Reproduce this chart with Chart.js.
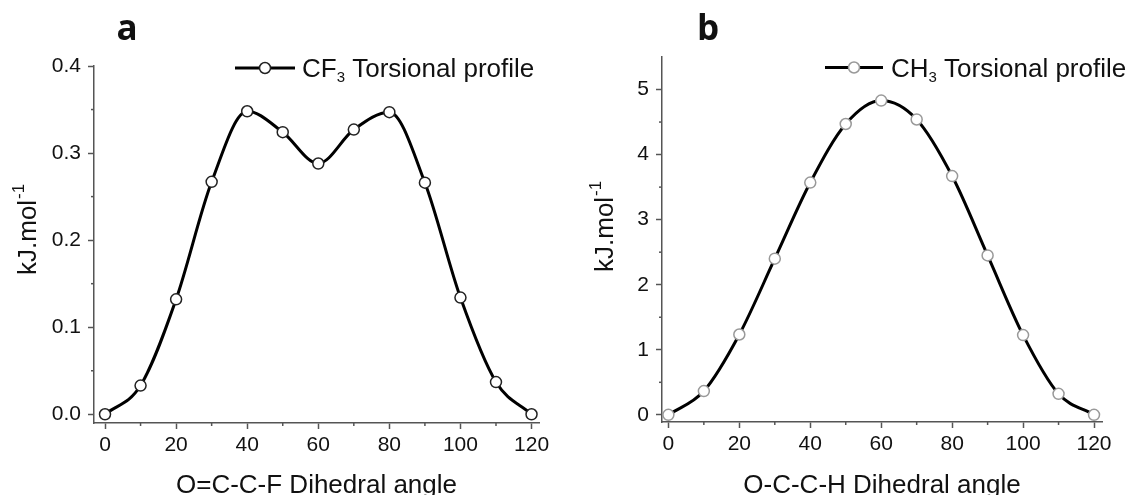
<!DOCTYPE html>
<html>
<head>
<meta charset="utf-8">
<script src="https://cdn.jsdelivr.net/npm/chart.js@4.4.0/dist/chart.umd.min.js"></script>
<style>
  body { margin: 0; background: #fff; }
  #wrap { position: relative; width: 1131px; height: 495px; }
  .panel { position: absolute; top: 0; height: 495px; }
  #panelA { left: 0; width: 565px; }
  #panelB { left: 565px; width: 566px; }
</style>
</head>
<body>
<div id="wrap">
  <div class="panel" id="panelA"><canvas id="chartA"></canvas></div>
  <div class="panel" id="panelB"><canvas id="chartB"></canvas></div>
</div>
<script>
// dihedral angles (degrees)
const angles = [0, 10, 20, 30, 40, 50, 60, 70, 80, 90, 100, 110, 120];
// torsional energy, kJ/mol
const cf3Energy = [0.0, 0.033, 0.132, 0.267, 0.348, 0.324, 0.288, 0.327, 0.347, 0.266, 0.134, 0.037, 0.0];
const ch3Energy = [0.0, 0.365, 1.235, 2.40, 3.57, 4.47, 4.83, 4.54, 3.67, 2.45, 1.226, 0.323, 0.0];

// tick positions (every other one is labelled)
const xTicks = [0, 10, 20, 30, 40, 50, 60, 70, 80, 90, 100, 110, 120];
const yTicksA = [0, 0.05, 0.1, 0.15, 0.2, 0.25, 0.3, 0.35, 0.4];
const yTicksB = [0, 0.5, 1, 1.5, 2, 2.5, 3, 3.5, 4, 4.5, 5];

const FONT = '"Liberation Sans", Arial, sans-serif';
const AXIS = '#555';

const textPlugin = {
  id: 'panelText',
  afterDraw(chart, args, o) {
    const ctx = chart.ctx;
    const area = chart.chartArea;
    const ds = chart.data.datasets[0];
    ctx.save();
    ctx.fillStyle = '#111';

    // panel letter
    ctx.font = 'bold 35px "Open Sans", sans-serif';
    ctx.textAlign = 'center';
    ctx.textBaseline = 'alphabetic';
    ctx.fillText(o.letter, o.letterX, 40);

    // x title
    ctx.font = '26px ' + FONT;
    ctx.fillText(o.xTitle, (area.left + area.right) / 2, 493);

    // y title with superscript
    ctx.save();
    ctx.translate(o.yTitleX, o.yTitleY);
    ctx.rotate(-Math.PI / 2);
    ctx.textAlign = 'left';
    ctx.font = '26px ' + FONT;
    ctx.fillText('kJ.mol', 0, 0);
    const w = ctx.measureText('kJ.mol').width;
    ctx.font = '17px ' + FONT;
    ctx.fillText('-1', w + 1, -12);
    ctx.restore();

    // legend: line + marker + label with subscript
    const lg = o.legend;
    ctx.strokeStyle = ds.borderColor;
    ctx.lineWidth = ds.borderWidth;
    ctx.beginPath();
    ctx.moveTo(lg.x0, lg.y);
    ctx.lineTo(lg.x1, lg.y);
    ctx.stroke();
    ctx.beginPath();
    ctx.arc((lg.x0 + lg.x1) / 2, lg.y, ds.pointRadius, 0, Math.PI * 2);
    ctx.fillStyle = ds.pointBackgroundColor;
    ctx.fill();
    ctx.lineWidth = ds.pointBorderWidth;
    ctx.strokeStyle = ds.pointBorderColor;
    ctx.stroke();

    ctx.fillStyle = '#111';
    ctx.textAlign = 'left';
    let x = lg.textX;
    ctx.font = '26px ' + FONT;
    ctx.fillText(o.legendMain, x, lg.baseline);
    x += ctx.measureText(o.legendMain).width;
    ctx.font = '15px ' + FONT;
    ctx.fillText(o.legendSub, x, lg.baseline + 5);
    x += ctx.measureText(o.legendSub).width;
    ctx.font = '26px ' + FONT;
    ctx.fillText(o.legendRest, x, lg.baseline);

    // short minor ticks
    ctx.strokeStyle = AXIS;
    ctx.lineWidth = 1.5;
    const xs = chart.scales.x, ys = chart.scales.y;
    xs.ticks.forEach(t => {
      if (t.value % 20 !== 0) {
        const px = xs.getPixelForValue(t.value);
        ctx.beginPath(); ctx.moveTo(px, area.bottom); ctx.lineTo(px, area.bottom + 3); ctx.stroke();
      }
    });
    ys.ticks.forEach(t => {
      if (!o.yMajor(t.value)) {
        const py = ys.getPixelForValue(t.value);
        ctx.beginPath(); ctx.moveTo(area.left, py); ctx.lineTo(area.left - 3, py); ctx.stroke();
      }
    });
    ctx.restore();
  }
};

function makeChart(id, data, cfg) {
  const isMajorY = cfg.yMajor;
  return new Chart(document.getElementById(id), {
    type: 'line',
    data: {
      datasets: [{
        label: cfg.label,
        data: angles.map((a, i) => ({ x: a, y: data[i] })),
        borderColor: '#000',
        borderWidth: 3,
        cubicInterpolationMode: 'monotone',
        pointRadius: 5.5,
        pointBorderWidth: 1.5,
        pointBackgroundColor: '#fff',
        pointBorderColor: cfg.markerBorder,
        clip: false
      }]
    },
    options: {
      responsive: true,
      maintainAspectRatio: false,
      animation: false,
      layout: { padding: { top: cfg.top, right: cfg.right, left: 0, bottom: 0 } },
      plugins: {
        legend: { display: false },
        tooltip: { enabled: false },
        panelText: cfg.text
      },
      scales: {
        x: {
          type: 'linear',
          min: cfg.xMin,
          max: cfg.xMax,
          afterFit: s => { s.height = cfg.xAxisHeight; },
          afterBuildTicks: s => { s.ticks = xTicks.map(v => ({ value: v })); },
          ticks: {
            autoSkip: false, maxRotation: 0, padding: 4, color: '#111',
            font: { family: FONT, size: 21 },
            callback: v => (v % 20 === 0 ? String(v) : '')
          },
          grid: {
            drawOnChartArea: false, tickLength: 6, tickWidth: 1.5,
            tickColor: c => (c.tick && c.tick.value % 20 === 0 ? AXIS : 'rgba(0,0,0,0)')
          },
          border: { color: AXIS, width: 1.5 }
        },
        y: {
          min: cfg.yMin,
          max: cfg.yMax,
          afterFit: s => { s.width = cfg.yAxisWidth; },
          afterBuildTicks: s => { s.ticks = cfg.yTicks.map(v => ({ value: v })); },
          ticks: {
            autoSkip: false, padding: 7, color: '#111',
            font: { family: FONT, size: 21 },
            callback: v => (isMajorY(v) ? cfg.yFormat(v) : '')
          },
          grid: {
            drawOnChartArea: false, tickLength: 6, tickWidth: 1.5,
            tickColor: c => (c.tick && isMajorY(c.tick.value) ? AXIS : 'rgba(0,0,0,0)')
          },
          border: { color: AXIS, width: 1.5 }
        }
      }
    },
    plugins: [textPlugin]
  });
}

const majorA = v => Math.abs(Math.round(v * 10) - v * 10) < 1e-6;
const majorB = v => Math.abs(Math.round(v) - v) < 1e-6;

makeChart('chartA', cf3Energy, {
  label: 'CF3 Torsional profile',
  markerBorder: '#222',
  top: 66, right: 26, xAxisHeight: 72, yAxisWidth: 94,
  xMin: -3.1, xMax: 122.1, yMin: -0.01, yMax: 0.4,
  yTicks: yTicksA, yMajor: majorA, yFormat: v => v.toFixed(1),
  text: {
    letter: 'a', letterX: 127, xTitle: 'O=C-C-F Dihedral angle',
    yTitleX: 36, yTitleY: 275, yMajor: majorA,
    legendMain: 'CF', legendSub: '3', legendRest: ' Torsional profile',
    legend: { x0: 235, x1: 295, y: 68, textX: 302, baseline: 77 }
  }
});

makeChart('chartB', ch3Energy, {
  label: 'CH3 Torsional profile',
  markerBorder: '#999',
  top: 57, right: 29, xAxisHeight: 73, yAxisWidth: 97,
  xMin: -1.8, xMax: 122.25, yMin: -0.11, yMax: 5.5,
  yTicks: yTicksB, yMajor: majorB, yFormat: v => String(v),
  text: {
    letter: 'b', letterX: 143, xTitle: 'O-C-C-H Dihedral angle',
    yTitleX: 48, yTitleY: 272, yMajor: majorB,
    legendMain: 'CH', legendSub: '3', legendRest: ' Torsional profile',
    legend: { x0: 260, x1: 318, y: 67.5, textX: 326, baseline: 77 }
  }
});
</script>
</body>
</html>
